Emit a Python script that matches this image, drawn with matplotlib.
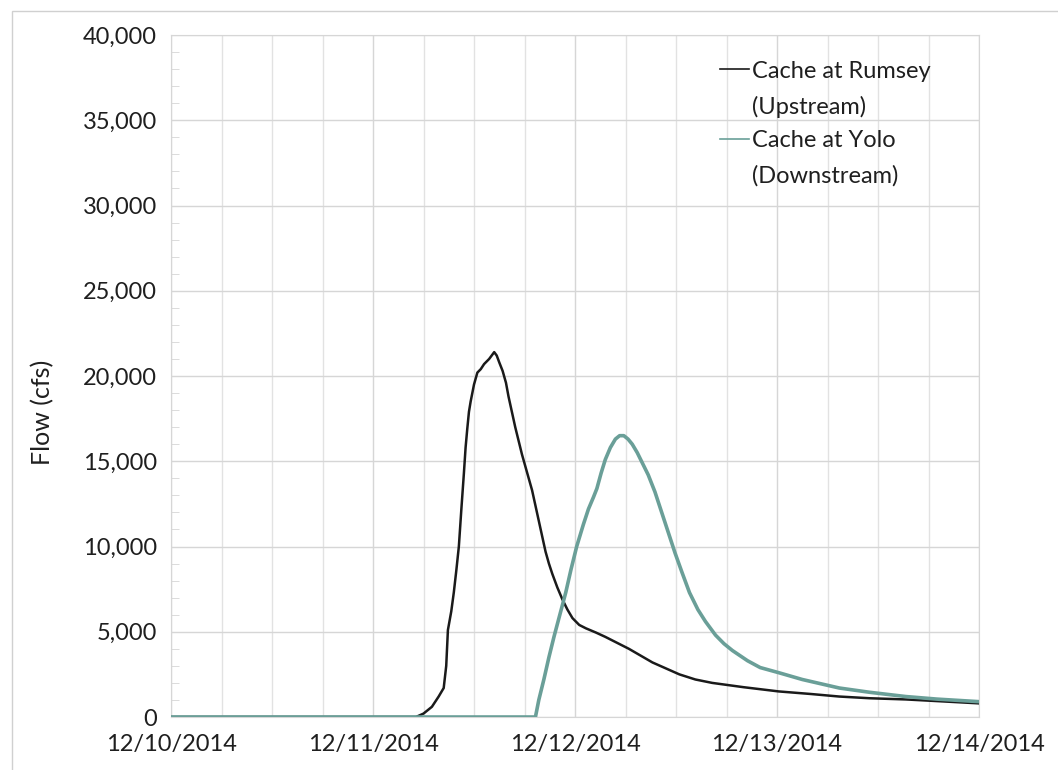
import numpy as np
import matplotlib
matplotlib.use("Agg")
import matplotlib.pyplot as plt
import matplotlib.dates as mdates
from matplotlib.patches import Rectangle
from matplotlib.ticker import FuncFormatter, MultipleLocator
import pandas as pd

plt.rcParams['font.family'] = ['Lato', 'DejaVu Sans']

start = pd.Timestamp('2014-12-10')

# hours after midnight 12/10 and flow (cfs)
rumsey_hours = [0, 29.1, 30.0, 31.0, 31.8, 32.4, 32.7, 32.9, 33.3, 33.6, 33.9, 34.2,
                34.5, 34.8, 35.0, 35.2, 35.4, 35.6, 36.0, 36.4, 36.8, 37.2, 37.8,
                38.1, 38.4, 38.7, 39.0, 39.4, 39.8, 40.1, 40.5, 40.9, 41.3, 41.7,
                42.1, 42.5, 42.9, 43.3, 43.7, 44.1, 44.5, 44.9, 45.3, 45.9, 46.5,
                47.1, 47.7, 48.5, 49.3, 50.5, 51.6, 53.0, 54.4, 55.8, 57.2, 58.8,
                60.4, 62.3, 64.3, 68.0, 72.2, 76.0, 79.4, 83.0, 87.3, 91.5, 96.0]
rumsey_flow = [0, 0, 200, 600, 1200, 1700, 3000, 5100, 6200, 7300, 8600, 10000,
               12200, 14300, 15800, 16900, 17900, 18500, 19500, 20200, 20400, 20700, 21000,
               21200, 21400, 21200, 20800, 20300, 19600, 18800, 17900, 17000, 16200, 15400,
               14700, 14000, 13300, 12400, 11500, 10600, 9700, 9000, 8400, 7600, 6900,
               6300, 5800, 5400, 5200, 4950, 4700, 4350, 4000, 3600, 3200, 2850,
               2500, 2200, 2000, 1750, 1500, 1350, 1200, 1100, 1030, 920, 800]

yolo_hours = [0, 43.3, 43.7, 44.3, 44.9, 45.5, 46.2, 46.9, 47.5, 48.2, 49.0, 49.6,
              50.2, 50.6, 51.1, 51.6, 52.2, 52.8, 53.3, 53.8, 54.3, 54.8, 55.4,
              55.9, 56.7, 57.5, 58.3, 59.1, 59.9, 60.7, 61.6, 62.6, 63.5, 64.7,
              65.7, 66.7, 68.5, 70.0, 72.2, 75.0, 79.4, 83.0, 87.3, 91.0, 96.0]
yolo_flow = [0, 0, 1000, 2200, 3500, 4700, 6000, 7300, 8600, 10000, 11300, 12200,
             12900, 13400, 14300, 15100, 15800, 16300, 16500, 16500, 16300, 16000, 15500,
             15000, 14200, 13200, 12000, 10800, 9600, 8500, 7300, 6300, 5600, 4800,
             4300, 3900, 3300, 2900, 2600, 2200, 1700, 1450, 1200, 1050, 900]

rumsey_time = start + pd.to_timedelta(rumsey_hours, unit='h')
yolo_time = start + pd.to_timedelta(yolo_hours, unit='h')

fig = plt.figure(figsize=(10.58, 7.70), dpi=100)
ax = fig.add_axes([171 / 1058, 1 - 717 / 770, 808 / 1058, 682 / 770])

# outer chart border
fig.add_artist(Rectangle((12 / 1058, -0.05), 1.0, 1 - 11 / 770 + 0.05,
                         transform=fig.transFigure, fill=False,
                         edgecolor='#d0d0d0', linewidth=1.0))

ax.plot(rumsey_time, rumsey_flow, color='#1a1a1a', linewidth=1.8,
        label='Cache at Rumsey\n(Upstream)', zorder=3)
ax.plot(yolo_time, yolo_flow, color='#6a9f98', linewidth=2.6,
        label='Cache at Yolo\n(Downstream)', zorder=4)

ax.set_xlim(start, start + pd.Timedelta(days=4))
ax.set_ylim(0, 40000)

ax.xaxis.set_major_locator(mdates.DayLocator())
ax.xaxis.set_major_formatter(FuncFormatter(
    lambda v, p: mdates.num2date(v).strftime('%m/%d/%Y')))
ax.xaxis.set_minor_locator(mdates.HourLocator(byhour=[6, 12, 18]))
ax.yaxis.set_major_locator(MultipleLocator(5000))
ax.yaxis.set_minor_locator(MultipleLocator(1000))
ax.yaxis.set_major_formatter(FuncFormatter(lambda v, p: f'{int(v):,}'))

ax.grid(which='major', axis='both', color='#d6d6d6', linewidth=1.0)
ax.grid(which='minor', axis='x', color='#e2e2e2', linewidth=1.0)
ax.set_axisbelow(True)

ax.tick_params(axis='x', which='both', length=0, pad=12, labelsize=17, labelcolor='#1f1f1f')
ax.tick_params(axis='y', which='major', length=0, pad=10, labelsize=17, labelcolor='#1f1f1f')
ax.tick_params(axis='y', which='minor', direction='in', length=6, color='#d6d6d6')
for s in ax.spines.values():
    s.set_color('#d6d6d6')

ax.set_ylabel('Flow (cfs)', fontsize=18, color='#1f1f1f')
ax.yaxis.set_label_coords(-0.145, 0.447)

leg = ax.legend(loc='upper left', bbox_to_anchor=(0.68, 0.962), frameon=False,
                fontsize=17, handlelength=1.2, handletextpad=0.12,
                borderpad=0, borderaxespad=0, labelspacing=0.5)
for t in leg.get_texts():
    t.set_color('#1f1f1f')
    t.set_linespacing(1.8)
for ln in leg.get_lines():
    ln.set_linewidth(1.2)
# put each legend line level with the first line of its label
for col in leg._legend_handle_box.get_children():
    for row in col.get_children():
        row.align = 'top'

fig.savefig('out.png', dpi=100, facecolor='white')
